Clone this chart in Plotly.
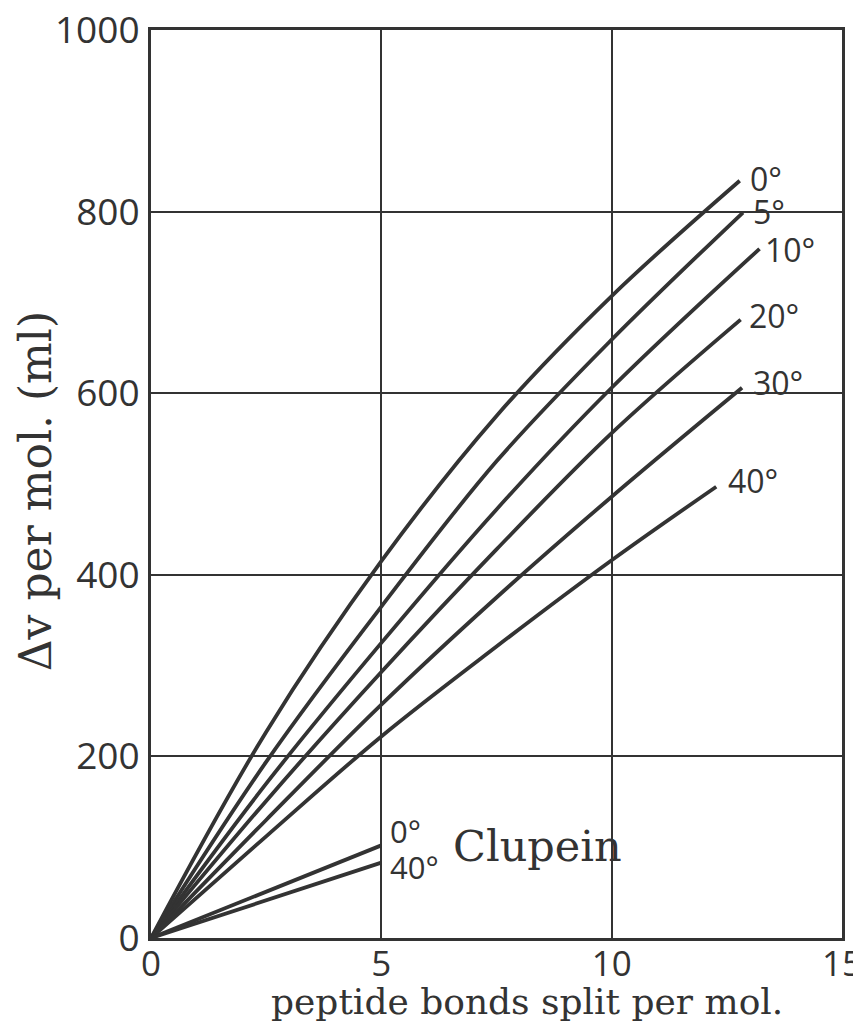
import plotly.graph_objects as go

# ---- data ----
temp_labels = ["0°", "5°", "10°", "20°", "30°", "40°"]

x_0 = [0, 2.5, 5, 7.5, 10, 12.78]
y_0 = [0, 227, 415, 575, 707, 834]

x_5 = [0, 2.5, 5, 7.5, 10, 12.85]
y_5 = [0, 194, 365, 525, 659, 799]

x_10 = [0, 2.5, 5, 7.5, 10, 13.21]
y_10 = [0, 170, 325, 472, 606, 759]

x_20 = [0, 2.5, 5, 7.5, 10, 12.8]
y_20 = [0, 151, 293, 428, 556, 681]

x_30 = [0, 2.5, 5, 7.5, 10, 12.83]
y_30 = [0, 130, 257, 375, 486, 606]

x_40 = [0, 2.5, 5, 7.5, 10, 12.27]
y_40 = [0, 112, 222, 321, 416, 497]

clupein_x = [0, 5]
clupein_y_0 = [0, 102]
clupein_y_40 = [0, 83]

x_ticks = [0, 5, 10, 15]
y_ticks = [0, 200, 400, 600, 800, 1000]

series_x = [x_0, x_5, x_10, x_20, x_30, x_40]
series_y = [y_0, y_5, y_10, y_20, y_30, y_40]
label_shifts = [(8, 2), (8, 1), (3, -1), (6, 4), (9, 5), (10, 6)]

INK = "#333333"
SANS = "Open Sans, Lato, sans-serif"
SERIF = "DejaVu Serif, serif"

fig = go.Figure()
for xs, ys in zip(series_x, series_y):
    fig.add_trace(go.Scatter(x=xs, y=ys, mode="lines",
                             line=dict(color=INK, width=3.8, shape="spline", smoothing=1.0),
                             hoverinfo="skip", showlegend=False))
for ys in (clupein_y_0, clupein_y_40):
    fig.add_trace(go.Scatter(x=clupein_x, y=ys, mode="lines",
                             line=dict(color=INK, width=3.8),
                             hoverinfo="skip", showlegend=False))

annotations = []
for lab, xs, ys, (dx, dy) in zip(temp_labels, series_x, series_y, label_shifts):
    annotations.append(dict(x=xs[-1], y=ys[-1], xref="x", yref="y", text=lab,
                            showarrow=False, xanchor="left", yanchor="middle",
                            xshift=dx, yshift=dy,
                            font=dict(family=SANS, size=32, color=INK)))
annotations.append(dict(x=clupein_x[-1], y=clupein_y_0[-1], xref="x", yref="y", text="0°",
                        showarrow=False, xanchor="left", yanchor="middle",
                        xshift=7, yshift=14, font=dict(family=SANS, size=31, color=INK)))
annotations.append(dict(x=clupein_x[-1], y=clupein_y_40[-1], xref="x", yref="y", text="40°",
                        showarrow=False, xanchor="left", yanchor="middle",
                        xshift=7, yshift=-4, font=dict(family=SANS, size=31, color=INK)))
annotations.append(dict(x=clupein_x[-1], y=clupein_y_40[-1], xref="x", yref="y", text="Clupein",
                        showarrow=False, xanchor="left", yanchor="middle",
                        xshift=70, yshift=17, font=dict(family=SERIF, size=43, color=INK)))
# axis titles
annotations.append(dict(x=0.544, y=0, xref="paper", yref="paper",
                        text="peptide bonds split per mol.", showarrow=False,
                        xanchor="center", yanchor="top", yshift=-41,
                        font=dict(family=SERIF, size=36, color=INK)))
annotations.append(dict(x=-0.168, y=0.492, xref="paper", yref="paper",
                        text="Δv per mol. (ml)", showarrow=False, textangle=-90,
                        xanchor="center", yanchor="middle",
                        font=dict(family=SERIF, size=44, color=INK)))

fig.update_layout(
    width=861, height=1030,
    margin=dict(l=143, r=27, t=22, b=100),
    paper_bgcolor="white", plot_bgcolor="white",
    annotations=annotations,
    xaxis=dict(range=[0, 15], tickvals=x_ticks, ticktext=[str(v) for v in x_ticks],
               showgrid=True, gridcolor=INK, gridwidth=2, zeroline=False,
               showline=True, linecolor=INK, linewidth=3, mirror=True,
               ticks="", ticklabelstandoff=-7, ticklabeloverflow="allow",
               automargin=False,
               tickfont=dict(family=SANS, size=35, color=INK)),
    yaxis=dict(range=[0, 1000], tickvals=y_ticks, ticktext=[str(v) for v in y_ticks],
               showgrid=True, gridcolor=INK, gridwidth=2, zeroline=False,
               showline=True, linecolor=INK, linewidth=3, mirror=True,
               ticks="", ticklabelstandoff=1, ticklabeloverflow="allow",
               automargin=False,
               tickfont=dict(family=SANS, size=37, color=INK)),
)

fig.write_html("out.html")
